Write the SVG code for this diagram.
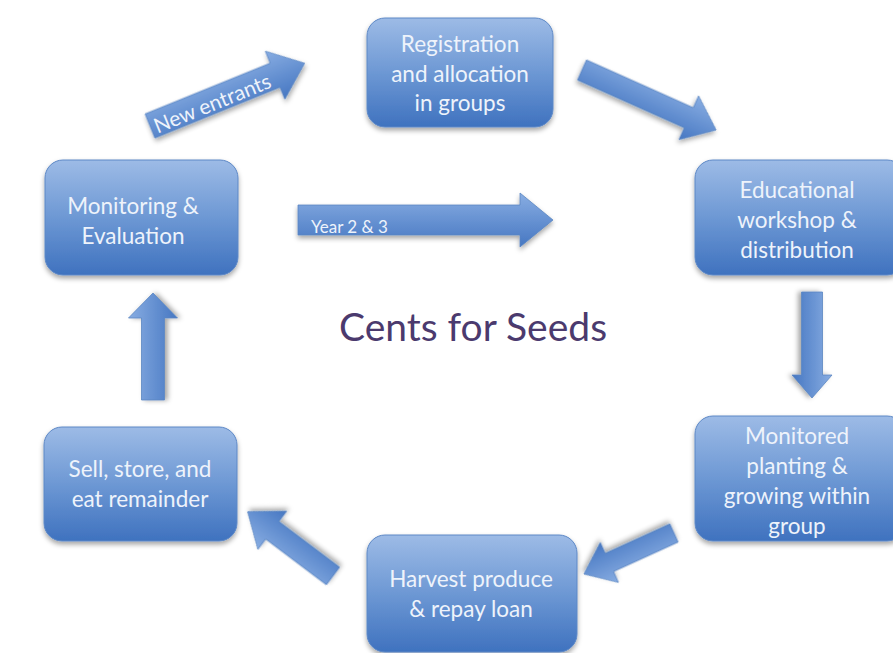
<svg xmlns="http://www.w3.org/2000/svg" width="893" height="653" viewBox="0 0 893 653">
<defs>
<linearGradient id="boxg" x1="0" y1="0" x2="0" y2="1">
<stop offset="0" stop-color="#9dbbe6"/>
<stop offset="0.5" stop-color="#6d98d4"/>
<stop offset="1" stop-color="#3f72bf"/>
</linearGradient>
<linearGradient id="arrg" x1="0" y1="0" x2="0" y2="1">
<stop offset="0" stop-color="#88ade2"/>
<stop offset="1" stop-color="#4677c2"/>
</linearGradient>
<filter id="sh" x="-20%" y="-20%" width="140%" height="150%">
<feDropShadow dx="0" dy="3" stdDeviation="2.5" flood-color="#000" flood-opacity="0.35"/>
</filter>
</defs>
<style>
.box{fill:url(#boxg);stroke:#5d88c6;stroke-width:1;filter:url(#sh)}
.arr{fill:url(#arrg);stroke:#5b86c2;stroke-width:0.8;filter:url(#sh)}
.t{font-family:Lato,"Liberation Sans",sans-serif;font-size:22.5px;fill:#eef3fb;text-anchor:middle}
.al{font-family:Lato,"Liberation Sans",sans-serif;fill:#eef3fb}
.title{font-family:Lato,"Liberation Sans",sans-serif;font-size:39px;fill:#4b3a6e;text-anchor:middle}
</style>
<rect width="893" height="653" fill="#ffffff"/>

<g id="connectors">
<g id="arrow-new-entrants" transform="translate(150,126) rotate(-22.1)">
<path class="arr" d="M0,-13 L135,-13 L135,-26 L167,0 L135,26 L135,13 L0,13 Z"/>
<text class="al" x="4" y="10" font-size="21">New entrants</text>
</g>
<g id="arrow-year" transform="translate(298,220)">
<path class="arr" d="M0,-15 L222,-15 L222,-27 L255,0 L222,27 L222,15 L0,15 Z"/>
<text class="al" x="13" y="13" font-size="17">Year 2 &amp; 3</text>
</g>
<g id="arrow-reg-edu" transform="translate(582,70) rotate(24.1)">
<path class="arr" d="M0,-11 L117,-11 L117,-24 L147,0 L117,24 L117,11 L0,11 Z"/>
</g>
<g id="arrow-edu-mon" transform="translate(812,292) rotate(90)">
<path class="arr" d="M0,-10.5 L83,-10.5 L83,-20 L106,0 L83,20 L83,10.5 L0,10.5 Z"/>
</g>
<g id="arrow-mon-harv" transform="translate(674,533) rotate(155.5)">
<path class="arr" d="M0,-10 L71,-10 L71,-22 L99,0 L71,22 L71,10 L0,10 Z"/>
</g>
<g id="arrow-harv-sell" transform="translate(333,576) rotate(-143)">
<path class="arr" d="M0,-11 L76,-11 L76,-24 L107,0 L76,24 L76,11 L0,11 Z"/>
</g>
<g id="arrow-sell-mon" transform="translate(153,400) rotate(-90)">
<path class="arr" d="M0,-11.5 L82,-11.5 L82,-24.5 L107,0 L82,24.5 L82,11.5 L0,11.5 Z"/>
</g>
</g>

<g id="node-registration">
<rect class="box" x="367" y="18" width="186" height="109" rx="18"/>
<text class="t" x="460" y="52">Registration</text>
<text class="t" x="460" y="82">and allocation</text>
<text class="t" x="460" y="111">in groups</text>
</g>
<g id="node-educational">
<rect class="box" x="695" y="160" width="210" height="115" rx="18"/>
<text class="t" x="797" y="198">Educational</text>
<text class="t" x="797" y="228">workshop &amp;</text>
<text class="t" x="797" y="258">distribution</text>
</g>
<g id="node-monitored">
<rect class="box" x="695" y="416" width="210" height="125" rx="18"/>
<text class="t" x="797" y="444">Monitored</text>
<text class="t" x="797" y="474">planting &amp;</text>
<text class="t" x="797" y="504">growing within</text>
<text class="t" x="797" y="534">group</text>
</g>
<g id="node-harvest">
<rect class="box" x="367" y="535" width="210" height="117" rx="18"/>
<text class="t" x="471" y="587">Harvest produce</text>
<text class="t" x="471" y="617">&amp; repay loan</text>
</g>
<g id="node-sell">
<rect class="box" x="44" y="427" width="193" height="114" rx="18"/>
<text class="t" x="140" y="477">Sell, store, and</text>
<text class="t" x="140" y="507">eat remainder</text>
</g>
<g id="node-monitoring">
<rect class="box" x="45" y="160" width="193" height="115" rx="18"/>
<text class="t" x="133" y="214">Monitoring &amp;</text>
<text class="t" x="133" y="244">Evaluation</text>
</g>

<text class="title" x="473" y="341">Cents for Seeds</text>
</svg>
